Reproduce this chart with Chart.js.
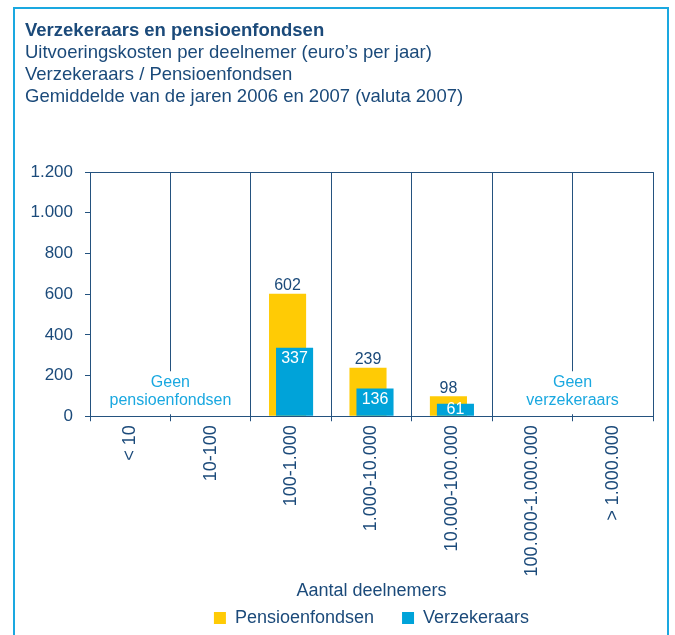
<!DOCTYPE html>
<html lang="nl">
<head>
<meta charset="UTF-8">
<title>Verzekeraars en pensioenfondsen</title>
<script src="https://cdn.jsdelivr.net/npm/chart.js"></script>
<style>
    html, body { margin: 0; padding: 0; background: #fff; overflow: hidden; }
    .frame {
        position: absolute; left: 13px; top: 7px; width: 656px; height: 700px;
        border: 2px solid #1aa8e0; border-bottom: none; box-sizing: border-box;
    }
    #chart { position: absolute; left: 0; top: 0; }
</style>
</head>
<body>
<div class="frame"></div>
<canvas id="chart" width="675" height="635"></canvas>
<script>
    // gegevens
    const categorieen = ['< 10', '10-100', '100-1.000', '1.000-10.000', '10.000-100.000', '100.000-1.000.000', '> 1.000.000'];
    const pensioenfondsen = [null, null, 602, 239, 98, null, null];
    const verzekeraars = [null, null, 337, 136, 61, null, null];
    const yTicks = [0, 200, 400, 600, 800, 1000, 1200];
    const opmerkingen = [
        { tekst: ['Geen', 'pensioenfondsen'], naCategorie: 0 },
        { tekst: ['Geen', 'verzekeraars'], naCategorie: 5 }
    ];

    const navy = '#1b4a7a';
    const lijn = '#24527f';
    const geel = '#ffcb05';
    const blauw = '#00a3d9';
    const cyaan = '#1aa8e0';
    const lettertype = '"Liberation Sans", Arial, sans-serif';

    function nlGetal(v) {
        return String(v).replace(/\B(?=(\d{3})+(?!\d))/g, '.');
    }

    // blauwe staven voor de gele tekenen + labels en opmerkingen
    const extraPlugin = {
        id: 'extra',
        beforeDatasetDraw(chart, args) {
            if (args.index === 1) return false;
        },
        afterDatasetsDraw(chart) {
            const ctx = chart.ctx;
            chart.getDatasetMeta(1).controller.draw();

            const x = chart.scales.x;
            const y = chart.scales.y;
            const basis = y.getPixelForValue(0);

            // opmerkingen "Geen ..."
            ctx.save();
            ctx.font = '16px ' + lettertype;
            ctx.textAlign = 'center';
            ctx.textBaseline = 'middle';
            opmerkingen.forEach(o => {
                const px = (x.getPixelForValue(o.naCategorie) + x.getPixelForValue(o.naCategorie + 1)) / 2;
                const breedte = Math.max(...o.tekst.map(t => ctx.measureText(t).width));
                ctx.fillStyle = '#fff';
                ctx.fillRect(px - breedte / 2 - 2, basis - 45, breedte + 4, 43);
                ctx.fillStyle = cyaan;
                ctx.fillText(o.tekst[0], px, basis - 34);
                ctx.fillText(o.tekst[1], px, basis - 16);
            });

            // waarden
            ctx.font = '16px ' + lettertype;
            chart.getDatasetMeta(0).data.forEach((bar, i) => {
                if (pensioenfondsen[i] == null) return;
                ctx.fillStyle = navy;
                ctx.fillText(pensioenfondsen[i], bar.x, bar.y - 8);
            });
            chart.getDatasetMeta(1).data.forEach((bar, i) => {
                if (verzekeraars[i] == null) return;
                ctx.fillStyle = '#fff';
                ctx.fillText(verzekeraars[i], bar.x, Math.min(bar.y + 11, basis - 7));
            });
            ctx.restore();
        }
    };

    new Chart(document.getElementById('chart'), {
        type: 'bar',
        data: {
            labels: categorieen,
            datasets: [
                { label: 'Pensioenfondsen', data: pensioenfondsen, backgroundColor: geel },
                { label: 'Verzekeraars', data: verzekeraars, backgroundColor: blauw }
            ]
        },
        options: {
            responsive: false,
            animation: false,
            categoryPercentage: 0.174,
            barPercentage: 5.3,
            layout: { padding: { left: 25, right: 22, top: 12, bottom: -2 } },
            plugins: {
                title: {
                    display: true,
                    text: 'Verzekeraars en pensioenfondsen',
                    align: 'start',
                    color: navy,
                    font: { family: lettertype, size: 18.5, weight: 'bold', lineHeight: 1.19 },
                    padding: { top: 8, bottom: 0 }
                },
                subtitle: {
                    display: true,
                    text: ['Uitvoeringskosten per deelnemer (euro\u2019s per jaar)', 'Verzekeraars / Pensioenfondsen', 'Gemiddelde van de jaren 2006 en 2007 (valuta 2007)'],
                    align: 'start',
                    color: navy,
                    font: { family: lettertype, size: 18.5, lineHeight: 1.19 },
                    padding: { top: 0, bottom: 64 }
                },
                legend: {
                    position: 'bottom',
                    fullSize: false,
                    labels: {
                        boxWidth: 12,
                        boxHeight: 12,
                        padding: 28,
                        color: navy,
                        font: { family: lettertype, size: 18 }
                    }
                },
                tooltip: { enabled: false }
            },
            scales: {
                x: {
                    grid: { color: lijn, tickColor: lijn, tickLength: 5, offset: true },
                    border: { color: lijn },
                    ticks: {
                        color: navy,
                        font: { family: lettertype, size: 18 },
                        maxRotation: 90,
                        minRotation: 90,
                        autoSkip: false,
                        padding: 4
                    },
                    title: {
                        display: true,
                        text: 'Aantal deelnemers',
                        color: navy,
                        font: { family: lettertype, size: 18 },
                        padding: { top: 0, bottom: -21 }
                    }
                },
                y: {
                    min: 0,
                    max: 1200,
                    afterFit(scale) { scale.width = 65; },
                    afterBuildTicks(scale) { scale.ticks = yTicks.map(v => ({ value: v })); },
                    grid: {
                        color: c => (c.tick && c.tick.value === 1200 ? lijn : 'rgba(0,0,0,0)'),
                        tickColor: lijn,
                        tickLength: 5
                    },
                    border: { color: lijn },
                    ticks: {
                        color: navy,
                        font: { family: lettertype, size: 17 },
                        padding: 12,
                        callback: v => nlGetal(v)
                    }
                }
            }
        },
        plugins: [extraPlugin]
    });
</script>
</body>
</html>
